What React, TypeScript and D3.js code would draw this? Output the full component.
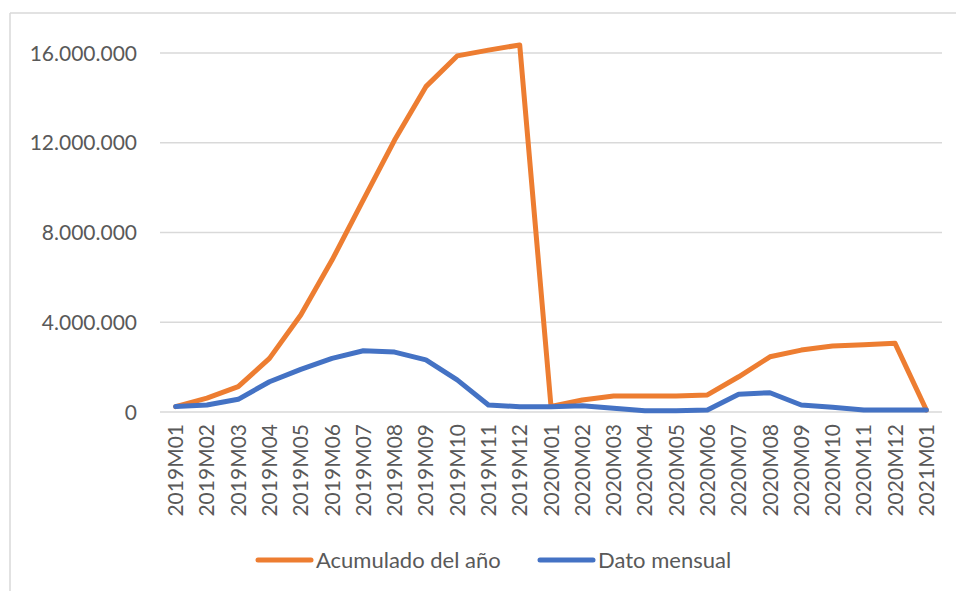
import * as d3 from "d3";

const W = 956;
const H = 591;

const months = [
  "2019M01", "2019M02", "2019M03", "2019M04", "2019M05", "2019M06", "2019M07",
  "2019M08", "2019M09", "2019M10", "2019M11", "2019M12", "2020M01", "2020M02",
  "2020M03", "2020M04", "2020M05", "2020M06", "2020M07", "2020M08", "2020M09",
  "2020M10", "2020M11", "2020M12", "2021M01",
];

// Acumulado del año
const acumulado = [
  240000, 620000, 1130000, 2390000, 4320000, 6770000, 9450000, 12120000,
  14500000, 15870000, 16130000, 16360000, 250000, 535000, 713000, 713000,
  713000, 760000, 1570000, 2460000, 2760000, 2940000, 3000000, 3060000, 90000,
];

// Dato mensual
const mensual = [
  240000, 312000, 565000, 1350000, 1900000, 2390000, 2730000, 2670000,
  2320000, 1430000, 312000, 236000, 236000, 280000, 165000, 60000, 60000,
  90000, 790000, 860000, 312000, 210000, 90000, 90000, 90000,
];

const yTicks = [0, 4000000, 8000000, 12000000, 16000000];

const series = [
  { name: "Acumulado del año", values: acumulado, color: "#ED7D31" },
  { name: "Dato mensual", values: mensual, color: "#4472C4" },
];

const FONT = "Lato, 'Open Sans', sans-serif";
const TEXT = "#595959";

export default function App() {
  const plot = { left: 160, right: 942, top: 53, bottom: 412 };

  const x = d3.scaleBand<string>().domain(months).range([plot.left, plot.right]);
  const cx = (m: string) => (x(m) ?? 0) + x.bandwidth() / 2;
  const y = d3.scaleLinear().domain([0, 16000000]).range([plot.bottom, plot.top]);

  const fmt = (v: number) => d3.format(",")(v).replace(/,/g, ".");

  const line = d3
    .line<number>()
    .x((_, i) => cx(months[i]))
    .y((v) => y(v));

  return (
    <svg
      width={W}
      height={H}
      viewBox={`0 0 ${W} ${H}`}
      style={{ position: "absolute", left: 0, top: 0, background: "#fff" }}
      fontFamily={FONT}
    >
      <rect x={0} y={0} width={W} height={H} fill="#fff" />
      {/* chart frame */}
      <line x1={10} x2={W} y1={13} y2={13} stroke="#d9d9d9" strokeWidth={1.5} />
      <line x1={10} x2={10} y1={13} y2={H} stroke="#d9d9d9" strokeWidth={1.5} />

      {yTicks.map((t) => (
        <g key={t}>
          <line
            x1={plot.left}
            x2={plot.right}
            y1={y(t)}
            y2={y(t)}
            stroke="#d9d9d9"
            strokeWidth={1.5}
          />
          <text
            x={137}
            y={y(t)}
            dy="0.36em"
            textAnchor="end"
            fontSize={21}
            fill={TEXT}
          >
            {fmt(t)}
          </text>
        </g>
      ))}

      {months.map((m) => (
        <text
          key={m}
          transform={`translate(${cx(m)},${424}) rotate(-90)`}
          textAnchor="end"
          dy="0.36em"
          fontSize={21}
          fill={TEXT}
        >
          {m}
        </text>
      ))}

      {series.map((s) => (
        <path
          key={s.name}
          d={line(s.values) ?? ""}
          fill="none"
          stroke={s.color}
          strokeWidth={5}
          strokeLinejoin="round"
          strokeLinecap="round"
        />
      ))}

      {/* legend */}
      {series.map((s, i) => {
        const lx = i === 0 ? 258 : 540;
        return (
          <g key={s.name}>
            <line
              x1={lx}
              x2={lx + 53}
              y1={560}
              y2={560}
              stroke={s.color}
              strokeWidth={5}
              strokeLinecap="round"
            />
            <text x={lx + 58} y={560} dy="0.36em" fontSize={22} fill={TEXT}>
              {s.name}
            </text>
          </g>
        );
      })}
    </svg>
  );
}
